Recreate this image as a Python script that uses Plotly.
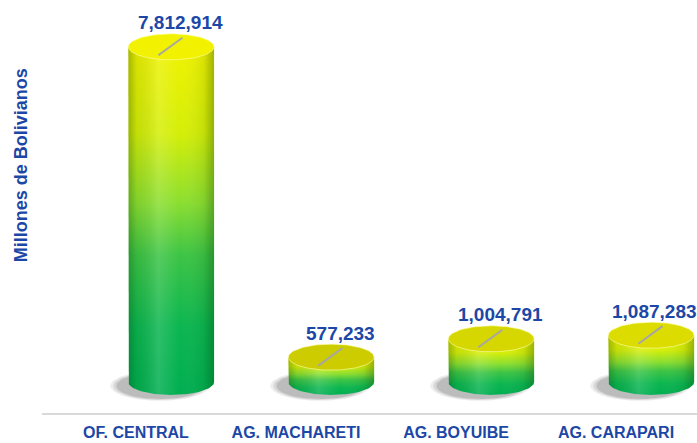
import numpy as np
import plotly.graph_objects as go

categories = ["OF. CENTRAL", "AG. MACHARETI", "AG. BOYUIBE", "AG. CARAPARI"]
values = [7812914, 577233, 1004791, 1087283]
value_labels = ["7,812,914", "577,233", "1,004,791", "1,087,283"]
top_fill = ["#f2f200", "#cccc00", "#d6d600", "#dcdc00"]

LABEL_BLUE = "#1c47a6"
FONT = "Arial, Liberation Sans, sans-serif"
SHIFT = 0.22       # cylinders stand behind the category ticks (3D depth)
HALF_W = 0.268     # cylinder radius, category units
HALF_H = 303000    # half-height of the ellipses, value units
X_RANGE = [-0.5875, 3.506]
Y_RANGE = [-725000, 8905000]
LABEL_HALF = 0.265  # half width of a value label, category units

body_scale = [[0, "#00ae50"], [0.2, "#0cb650"], [0.4, "#3cc445"],
              [0.55, "#8ade30"], [0.75, "#d4ee08"], [1, "#f0f200"]]
side_shade = [[0, "rgba(0,50,0,0.30)"], [0.1, "rgba(0,40,0,0.08)"],
              [0.35, "rgba(255,255,255,0.14)"], [0.6, "rgba(255,255,255,0)"],
              [0.88, "rgba(0,40,0,0.08)"], [1, "rgba(0,50,0,0.32)"]]

t = np.linspace(0, np.pi, 60)
T = np.linspace(0, 2 * np.pi, 120)

fig = go.Figure()

for i, v in enumerate(values):
    cx = i + SHIFT

    # --- soft shadow on the floor, falling to the left ---
    for s, a in [(1.16, 0.07), (1.09, 0.09), (1.02, 0.12)]:
        fig.add_trace(go.Scatter(
            x=cx - 0.07 + HALF_W * s * np.cos(T),
            y=-0.3 * HALF_H + HALF_H * s * np.sin(T),
            mode="lines", line=dict(width=0), fill="toself",
            fillcolor=f"rgba(0,0,0,{a})", hoverinfo="skip"))

    # --- cylinder body ---
    bx = np.concatenate([[cx - HALF_W], cx - HALF_W * np.cos(t), [cx + HALF_W]])
    by = np.concatenate([[v], -HALF_H * np.sin(t), [v]])
    fig.add_trace(go.Scatter(
        x=bx, y=by, mode="lines", line=dict(width=0), fill="toself",
        fillgradient=dict(type="vertical", colorscale=body_scale,
                          start=-HALF_H, stop=v),
        hoverinfo="skip"))
    fig.add_trace(go.Scatter(
        x=bx, y=by, mode="lines", line=dict(width=0), fill="toself",
        fillgradient=dict(type="horizontal", colorscale=side_shade,
                          start=cx - HALF_W, stop=cx + HALF_W),
        hoverinfo="skip"))

    # --- top cap ---
    fig.add_trace(go.Scatter(
        x=cx + HALF_W * np.cos(T), y=v + HALF_H * np.sin(T),
        mode="lines", line=dict(width=1, color="rgba(255,255,170,0.6)"),
        fill="toself", fillcolor=top_fill[i], hoverinfo="skip"))

    # --- leader line for the data label ---
    fig.add_trace(go.Scatter(
        x=[cx - 0.08, cx + 0.07], y=[v - 0.65 * HALF_H, v + 0.7 * HALF_H],
        mode="lines", line=dict(color="#a6a6a6", width=2), hoverinfo="skip"))

    # keep the label inside the plot area, like Excel does
    lx = min(cx + 0.06, X_RANGE[1] - LABEL_HALF)
    fig.add_annotation(
        x=lx, y=v, yshift=24, text=value_labels[i], showarrow=False,
        font=dict(family=FONT, size=19, color=LABEL_BLUE, weight="bold"))

fig.add_annotation(
    x=-0.032, y=0.6, xref="paper", yref="paper", text="Millones de Bolivianos",
    textangle=-90, showarrow=False, xanchor="center",
    font=dict(family=FONT, size=18, color=LABEL_BLUE, weight="bold"))

fig.update_layout(
    width=697, height=443,
    margin=dict(l=42, r=0, t=0, b=30),
    plot_bgcolor="white", paper_bgcolor="white",
    showlegend=False,
    xaxis=dict(range=X_RANGE, tickvals=list(range(len(categories))),
               ticktext=categories, showgrid=False, zeroline=False,
               showline=True, linecolor="#d9d9d9", linewidth=2, ticks="",
               ticklabelstandoff=4,
               tickfont=dict(family=FONT, size=16, color=LABEL_BLUE, weight="bold")),
    yaxis=dict(range=Y_RANGE, visible=False),
)

# the page body has an 8px default margin; drop it so the chart fills the window
fig.write_html("out.html", config={"displayModeBar": False},
               post_script="document.body.style.margin = '0';")
